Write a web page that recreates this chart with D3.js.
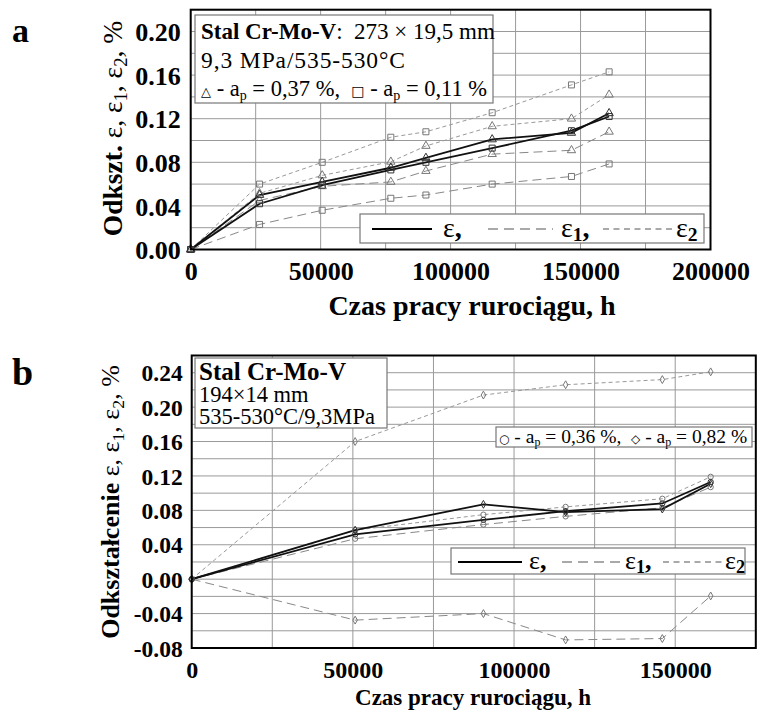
<!DOCTYPE html>
<html>
<head>
<meta charset="utf-8">
<script src="https://cdn.jsdelivr.net/npm/d3@7"></script>
<style>
  body { margin: 0; background: #fff; }
  svg { display: block; }
  text { font-family: "Liberation Serif", "Times New Roman", serif; fill: #000; }
</style>
</head>
<body>
<div class="container"></div>
<script>
// ---- panel a: 273x19,5 mm ----
const hoursA = [0, 26500, 50600, 77000, 90500, 116000, 146500, 161000]
const epsTriA  = [0, 0.050, 0.062, 0.075, 0.084, 0.101, 0.107, 0.125]
const eps1TriA = [0, 0.045, 0.058, 0.062, 0.072, 0.0875, 0.091, 0.108]
const eps2TriA = [0, 0.0515, 0.068, 0.0805, 0.095, 0.113, 0.120, 0.142]
const epsSqA   = [0, 0.042, 0.059, 0.073, 0.080, 0.093, 0.109, 0.122]
const eps1SqA  = [0, 0.023, 0.036, 0.047, 0.050, 0.060, 0.067, 0.0785]
const eps2SqA  = [0, 0.060, 0.080, 0.103, 0.108, 0.1255, 0.151, 0.163]
const xTicksA = [0, 50000, 100000, 150000, 200000]
const yTicksA = [0, 0.04, 0.08, 0.12, 0.16, 0.20]

// ---- panel b: 194x14 mm ----
const hoursB = [0, 50700, 90500, 116000, 146000, 161000]
const epsCirB  = [0, 0.052, 0.069, 0.079, 0.088, 0.113]
const eps1CirB = [0, 0.047, 0.0635, 0.073, 0.083, 0.107]
const eps2CirB = [0, 0.057, 0.075, 0.084, 0.0935, 0.119]
const epsDiaB  = [0, 0.057, 0.087, 0.078, 0.0815, 0.111]
const eps1DiaB = [0, -0.0476, -0.040, -0.0706, -0.069, -0.0195]
const eps2DiaB = [0, 0.160, 0.214, 0.226, 0.232, 0.241]
const xTicksB = [0, 50000, 100000, 150000]
const yTicksB = [-0.08, -0.04, 0, 0.04, 0.08, 0.12, 0.16, 0.20, 0.24]

const width = 757
const height = 713
const NB = "\u00a0"

const svg = d3.select(".container")
  .append("svg")
    .attr("width", width)
    .attr("height", height)

const styles = {
  eps:  { stroke: "#111", width: 1.8, dash: null },
  eps1: { stroke: "#888", width: 1, dash: "9,5" },
  eps2: { stroke: "#999", width: 1, dash: "4,3" }
}

const drawPanel = (o) => {
  const x = d3.scaleLinear().domain(o.xDomain).range(o.xRange)
  const y = d3.scaleLinear().domain(o.yDomain).range(o.yRange)
  const g = svg.append("g")

  // grid
  const grid = g.append("g").attr("stroke", "#9a9a9a").attr("stroke-width", 1)
  grid.selectAll(".h").data(d3.range(o.yDomain[0], o.yDomain[1] + 1e-9, 0.02)).join("line")
    .attr("x1", o.xRange[0]).attr("x2", o.xRange[1])
    .attr("y1", d => y(d)).attr("y2", d => y(d))
  grid.selectAll(".v").data(d3.range(0, o.xDomain[1] + 1, 25000)).join("line")
    .attr("y1", o.yRange[0]).attr("y2", o.yRange[1])
    .attr("x1", d => x(d)).attr("x2", d => x(d))

  const line = d3.line().x(d => x(d[0])).y(d => y(d[1]))

  // dashed first, solid on top
  const order = ["eps2", "eps1", "eps"]
  order.forEach(kind => {
    o.series.filter(s => s.kind === kind).forEach(s => {
      const pts = o.hours.map((h, i) => [h, s.values[i]])
      const st = styles[kind]
      g.append("path")
        .datum(pts)
        .attr("d", line)
        .attr("fill", "none")
        .attr("stroke", st.stroke)
        .attr("stroke-width", st.width)
        .attr("stroke-dasharray", st.dash)
    })
  })

  o.series.forEach(s => {
    const pts = o.hours.map((h, i) => [h, s.values[i]])
    g.append("g").selectAll("path").data(pts).join("path")
      .attr("transform", d => `translate(${x(d[0])},${y(d[1])})`)
      .attr("d", d3.symbol().type(s.symbol).size(s.size))
      .attr("fill", "none")
      .attr("stroke", s.kind === "eps" ? "#333" : "#777")
      .attr("stroke-width", 1)
  })

  // frame
  g.append("rect")
    .attr("x", o.xRange[0]).attr("y", o.yRange[1])
    .attr("width", o.xRange[1] - o.xRange[0])
    .attr("height", o.yRange[0] - o.yRange[1])
    .attr("fill", "none").attr("stroke", "#000").attr("stroke-width", 2)

  // axes
  const yAxis = d3.axisLeft(y).tickValues(o.yTicks).tickFormat(d => d.toFixed(2))
    .tickSize(0).tickPadding(o.yPad)
  const ya = g.append("g").attr("transform", `translate(${o.xRange[0]},0)`).call(yAxis)
  ya.select(".domain").remove()
  ya.selectAll("text")
    .attr("font-weight", "bold")
    .attr("font-size", o.yFont)
    .attr("dy", "0.35em")

  const xAxis = d3.axisBottom(x).tickValues(o.xTicks).tickFormat(d => String(d))
    .tickSize(0).tickPadding(o.xPad)
  const xa = g.append("g").attr("transform", `translate(0,${o.yRange[0]})`).call(xAxis)
  xa.select(".domain").remove()
  xa.selectAll("text")
    .attr("font-weight", "bold")
    .attr("font-size", o.xFont)

  return { x, y }
}

// ---------- panel a ----------
drawPanel({
  hours: hoursA,
  xDomain: [0, 200000], xRange: [190.7, 710.5],
  yDomain: [0, 0.22], yRange: [249.5, 9.7],
  xTicks: xTicksA, yTicks: yTicksA,
  xPad: 12, yPad: 10, xFont: 26, yFont: 26,
  series: [
    { kind: "eps2", values: eps2SqA, symbol: d3.symbolSquare, size: 36 },
    { kind: "eps1", values: eps1SqA, symbol: d3.symbolSquare, size: 36 },
    { kind: "eps2", values: eps2TriA, symbol: d3.symbolTriangle, size: 30 },
    { kind: "eps1", values: eps1TriA, symbol: d3.symbolTriangle, size: 30 },
    { kind: "eps", values: epsSqA, symbol: d3.symbolSquare, size: 36 },
    { kind: "eps", values: epsTriA, symbol: d3.symbolTriangle, size: 30 }
  ]
})

// ---------- panel b ----------
drawPanel({
  hours: hoursB,
  xDomain: [0, 175000], xRange: [191.7, 755.8],
  yDomain: [-0.08, 0.26], yRange: [648, 355.5],
  xTicks: xTicksB, yTicks: yTicksB,
  xPad: 13, yPad: 9, xFont: 24, yFont: 23.5,
  series: [
    { kind: "eps2", values: eps2DiaB, symbol: d3.symbolDiamond, size: 18 },
    { kind: "eps1", values: eps1DiaB, symbol: d3.symbolDiamond, size: 18 },
    { kind: "eps2", values: eps2CirB, symbol: d3.symbolCircle, size: 22 },
    { kind: "eps1", values: eps1CirB, symbol: d3.symbolCircle, size: 22 },
    { kind: "eps", values: epsCirB, symbol: d3.symbolCircle, size: 22 },
    { kind: "eps", values: epsDiaB, symbol: d3.symbolDiamond, size: 18 }
  ]
})

// ---------- texts ----------
const addText = (x, y, size, weight) => svg.append("text")
  .attr("x", x).attr("y", y).attr("font-size", size).attr("font-weight", weight || "normal")

// panel letters
addText(12, 42, 34, "bold").text("a")
addText(12, 385, 38, "bold").text("b")

// y titles
const yTitle = (cx, cy, size, boldPart) => {
  const t = svg.append("text")
    .attr("transform", `translate(${cx},${cy}) rotate(-90)`)
    .attr("text-anchor", "middle")
    .attr("font-size", size)
  t.append("tspan").attr("font-weight", "bold").text(boldPart)
  t.append("tspan").text(" ε, ε")
  t.append("tspan").attr("font-size", size * 0.68).attr("dy", 5).text("1")
  t.append("tspan").attr("dy", -5).text(", ε")
  t.append("tspan").attr("font-size", size * 0.68).attr("dy", 5).text("2")
  t.append("tspan").attr("dy", -5).text(", %")
}
yTitle(122, 128.5, 27.5, "Odkszt.")
yTitle(119, 502, 26, "Odkształcenie")

// x titles
addText(472, 315, 28, "bold").attr("text-anchor", "middle").text("Czas pracy rurociągu, h")
addText(473, 705, 23, "bold").attr("text-anchor", "middle").text("Czas pracy rurociągu, h")

// boxes
const box = (x, y, w, h) => svg.append("rect")
  .attr("x", x).attr("y", y).attr("width", w).attr("height", h)
  .attr("fill", "#fff").attr("stroke", "#777").attr("stroke-width", 1.2)

// panel a info box
box(195, 15, 298, 88)
const a1 = addText(201, 39, 23)
a1.append("tspan").attr("font-weight", "bold").text("Stal Cr-Mo-V")
a1.append("tspan").text(":" + NB + NB + "273" + NB + "×" + NB + "19,5" + NB + "mm")
addText(201, 68, 23.5).attr("letter-spacing", 0.9).text("9,3 MPa/535-530°C")
const a3 = addText(201, 96, 22.5)
a3.append("tspan").attr("font-family", "DejaVu Sans").attr("font-size", 13).text("△")
a3.append("tspan").text(" - a")
a3.append("tspan").attr("font-size", 14).attr("dy", 4).text("p")
a3.append("tspan").attr("dy", -4).text(" = 0,37 %," + NB + NB)
a3.append("tspan").attr("font-family", "DejaVu Sans").attr("font-size", 14).text("□")
a3.append("tspan").text(" - a")
a3.append("tspan").attr("font-size", 14).attr("dy", 4).text("p")
a3.append("tspan").attr("dy", -4).text(" = 0,11 %")

// panel b info box
box(195, 358, 192, 70)
addText(199, 380, 25, "bold").text("Stal Cr-Mo-V")
addText(199, 402, 22.5).text("194×14 mm")
addText(199, 424, 22.5).text("535-530°C/9,3MPa")

// panel b marker legend
box(496, 427, 256, 20)
const b1 = addText(499, 443, 19.5)
b1.append("tspan").attr("font-family", "DejaVu Sans").attr("font-size", 12).text("○")
b1.append("tspan").text(" - a")
b1.append("tspan").attr("font-size", 12).attr("dy", 3).text("p")
b1.append("tspan").attr("dy", -3).text(" = 0,36 %," + NB + NB)
b1.append("tspan").attr("font-family", "DejaVu Sans").attr("font-size", 12).text("◇")
b1.append("tspan").text(" - a")
b1.append("tspan").attr("font-size", 12).attr("dy", 3).text("p")
b1.append("tspan").attr("dy", -3).text(" = 0,82 %")

// line legends
const lineLegend = (bx, by, bw, bh, items, size, ly, ty) => {
  box(bx, by, bw, bh)
  items.forEach(it => {
    svg.append("line")
      .attr("x1", it.x1).attr("x2", it.x2).attr("y1", ly).attr("y2", ly)
      .attr("stroke", it.kind === "eps" ? "#000" : "#555")
      .attr("stroke-width", it.kind === "eps" ? 2 : 1.2)
      .attr("stroke-dasharray", it.kind === "eps1" ? "10,6" : it.kind === "eps2" ? "6,4.5" : null)
    const t = addText(it.tx, ty, size)
    t.append("tspan").text("ε")
    if (it.sub) t.append("tspan").attr("font-size", size * 0.7).attr("dy", 4).attr("font-weight", "bold").text(it.sub)
    if (it.comma) t.append("tspan").attr("font-weight", "bold").attr("dy", it.sub ? -4 : 0).text(",")
  })
}
lineLegend(360, 214, 344, 29, [
  { kind: "eps", x1: 372, x2: 432, tx: 443, sub: null, comma: true },
  { kind: "eps1", x1: 488, x2: 553, tx: 561, sub: "1", comma: true },
  { kind: "eps2", x1: 603, x2: 672, tx: 676, sub: "2", comma: false }
], 28, 229, 237)
lineLegend(451, 548, 294, 26, [
  { kind: "eps", x1: 458, x2: 522, tx: 529, sub: null, comma: true },
  { kind: "eps1", x1: 562, x2: 622, tx: 625, sub: "1", comma: true },
  { kind: "eps2", x1: 663, x2: 722, tx: 725, sub: "2", comma: false }
], 26, 562, 569)
</script>
</body>
</html>
